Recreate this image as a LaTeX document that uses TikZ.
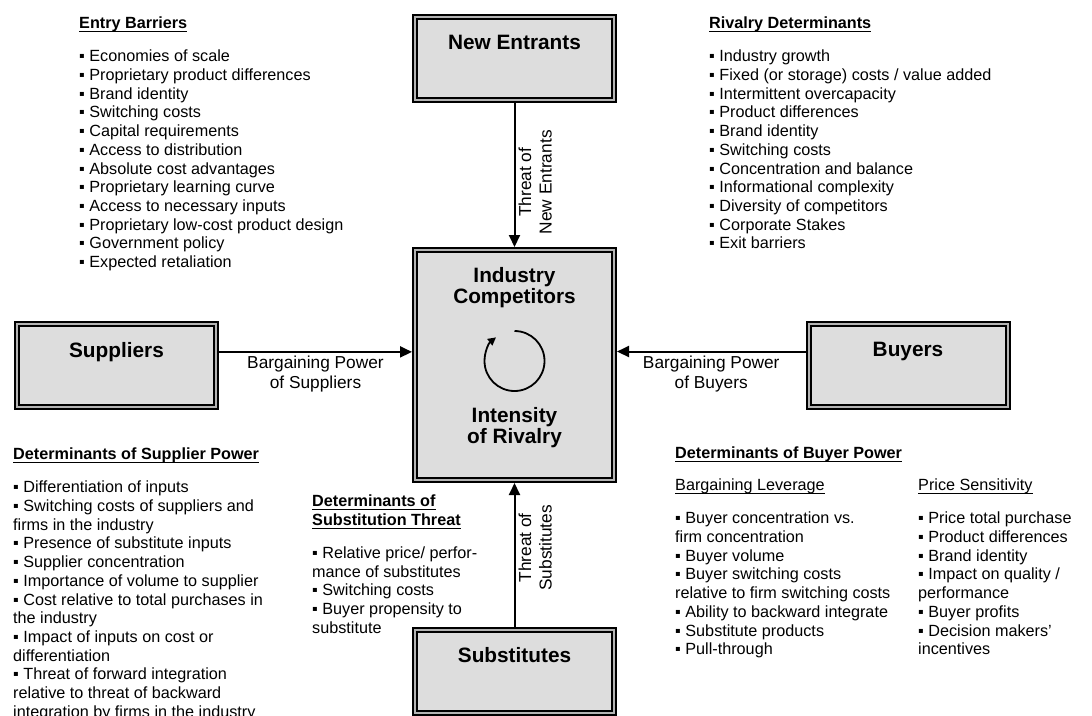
\documentclass[tikz,border=0pt]{standalone}
\usepackage{fontspec}
\setmainfont{Liberation Sans}
\usepackage{tikz}
\usetikzlibrary{arrows.meta, positioning}
\definecolor{boxfill}{HTML}{DDDDDD}
\definecolor{gapgray}{HTML}{B4B4B4}
\newcommand{\hdul}[2][1.6pt]{\setbox0\hbox{#2}\rlap{\rule[-3.5pt]{\wd0}{#1}}\box0}

\begin{document}
\begin{tikzpicture}[x=1pt, y=1pt,
    forcebox/.style={draw, line width=2pt, double=gapgray, double distance=2pt, fill=boxfill,
        minimum width=199pt, minimum height=83pt, inner sep=0pt, outer sep=3pt, anchor=north},
    boxtext/.style={font=\bfseries\fontsize{20.8}{21}\selectfont, align=center, inner sep=0pt},
    force/.style={line width=2pt, -{Triangle[length=12pt, width=11pt]}},
    arrowtext/.style={font=\fontsize{17.3}{20.5}\selectfont, align=center, inner sep=3pt},
    listtext/.style={font=\fontsize{16.2}{18.7}\selectfont, align=left, inner sep=0pt, anchor=north west}]

\useasboundingbox (0,0) rectangle (1092,-715);

\node[forcebox] (entrants) at (514.5,-14) {};
\node[forcebox, minimum height=230pt] (industry) at (514.5,-247) {};
\node[forcebox] (suppliers) at (116.5,-321) {};
\node[forcebox] (buyers) at (908,-321) {};
\node[forcebox] (substitutes) at (514.5,-627) {};

\node[boxtext, below=21pt of entrants.north] (entrantstxt) {New Entrants};
\node[boxtext, below=21pt of suppliers.north] (supplierstxt) {Suppliers};
\node[boxtext, below=21pt of buyers.north] (buyerstxt) {Buyers};
\node[boxtext, below=20pt of substitutes.north] (substitutestxt) {Substitutes};
\node[boxtext, below=20pt of industry.north] (industrytxt) {Industry\\Competitors};
\node[boxtext, above=35pt of industry.south] (rivalrytxt) {Intensity\\of Rivalry};

\draw[line width=1.8pt, -{Triangle[length=8pt, width=8pt]}] ([yshift=34pt]industry.center)
    arc[start angle=90, end angle=-232, radius=30pt];

\draw[force] (entrants) -- node[arrowtext, pos=0.55, rotate=90, anchor=north] (entrantslbl)
    {Threat of\\New Entrants} (industry);
\draw[force] (substitutes) -- node[arrowtext, pos=0.55, rotate=90, anchor=north] (substituteslbl)
    {Threat of\\Substitutes} (industry);
\draw[force] (suppliers.east |- supplierstxt) -- node[arrowtext, midway, below] (supplierslbl)
    {Bargaining Power\\of Suppliers} (industry.west |- supplierstxt);
\draw[force] (buyers.west |- buyerstxt) -- node[arrowtext, midway, below] (buyerslbl)
    {Bargaining Power\\of Buyers} (industry.east |- buyerstxt);

\node[listtext] (barriers) at (79,-17) {\textbf{\hdul{Entry Barriers}}\\[14.2pt]
    ▪ Economies of scale\\
    ▪ Proprietary product differences\\
    ▪ Brand identity\\
    ▪ Switching costs\\
    ▪ Capital requirements\\
    ▪ Access to distribution\\
    ▪ Absolute cost advantages\\
    ▪ Proprietary learning curve\\
    ▪ Access to necessary inputs\\
    ▪ Proprietary low-cost product design\\
    ▪ Government policy\\
    ▪ Expected retaliation};

\node[listtext] (rivalry) at (709,-17) {\textbf{\hdul{Rivalry Determinants}}\\[14.2pt]
    ▪ Industry growth\\
    ▪ Fixed (or storage) costs / value added\\
    ▪ Intermittent overcapacity\\
    ▪ Product differences\\
    ▪ Brand identity\\
    ▪ Switching costs\\
    ▪ Concentration and balance\\
    ▪ Informational complexity\\
    ▪ Diversity of competitors\\
    ▪ Corporate Stakes\\
    ▪ Exit barriers};

\node[listtext] (supplierpower) at (13,-448) {\textbf{\hdul{Determinants of Supplier Power}}\\[14.2pt]
    ▪ Differentiation of inputs\\
    ▪ Switching costs of suppliers and\\
    firms in the industry\\
    ▪ Presence of substitute inputs\\
    ▪ Supplier concentration\\
    ▪ Importance of volume to supplier\\
    ▪ Cost relative to total purchases in\\
    the industry\\
    ▪ Impact of inputs on cost or\\
    differentiation\\
    ▪ Threat of forward integration\\
    relative to threat of backward\\
    integration by firms in the industry};

\node[listtext] (substitution) at (312,-495) {\textbf{\hdul{Determinants of}}\\
    \textbf{\hdul{Substitution Threat}}\\[14.2pt]
    ▪ Relative price/ perfor-\\
    mance of substitutes\\
    ▪ Switching costs\\
    ▪ Buyer propensity to\\
    substitute};

\node[listtext] (buyerpower) at (675,-447) {\textbf{\hdul{Determinants of Buyer Power}}};

\node[listtext] (leverage) at (675,-479) {\hdul[1.2pt]{Bargaining Leverage}\\[14.2pt]
    ▪ Buyer concentration vs.\\
    firm concentration\\
    ▪ Buyer volume\\
    ▪ Buyer switching costs\\
    relative to firm switching costs\\
    ▪ Ability to backward integrate\\
    ▪ Substitute products\\
    ▪ Pull-through};

\node[listtext] (sensitivity) at (918,-479) {\hdul[1.2pt]{Price Sensitivity}\\[14.2pt]
    ▪ Price total purchase\\
    ▪ Product differences\\
    ▪ Brand identity\\
    ▪ Impact on quality /\\
    performance\\
    ▪ Buyer profits\\
    ▪ Decision makers’\\
    incentives};
\end{tikzpicture}
\end{document}
